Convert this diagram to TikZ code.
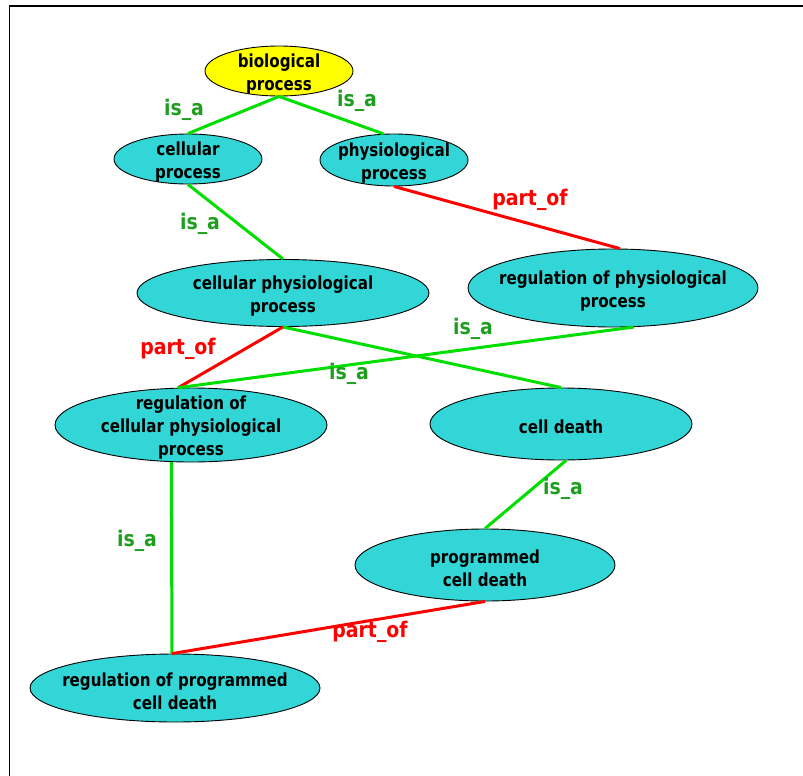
\documentclass[tikz,border=0pt]{standalone}
\usepackage{fontspec}
\setmainfont{DejaVu Sans}[FakeStretch=0.84]
\newfontfamily\relfont{DejaVu Sans}[FakeStretch=0.88]
\usepackage{tikz}
\usetikzlibrary{shapes.geometric}

\definecolor{gocyan}{RGB}{51,214,214}
\definecolor{goyellow}{RGB}{255,255,0}
\definecolor{isaline}{RGB}{0,222,0}
\definecolor{isatext}{RGB}{30,158,30}
\definecolor{partred}{RGB}{255,0,0}

\tikzset{
  proc/.style={ellipse,draw=black,line width=0.9pt,fill=gocyan,inner sep=0pt},
  root/.style={proc,fill=goyellow},
  txt/.style={font=\bfseries\fontsize{18}{23}\selectfont,align=center,inner sep=0pt,yshift=-3pt},
  rel/.style={font=\relfont\bfseries\fontsize{21.5}{25}\selectfont,inner sep=0pt},
  isa/.style={draw=isaline,line width=3pt},
  partof/.style={draw=partred,line width=3pt},
  isalbl/.style={rel,text=isatext},
  partlbl/.style={rel,text=partred}
}

\begin{document}
\begin{tikzpicture}[x=1pt,y=-1pt]
\useasboundingbox (0,0) rectangle (803,776);
\draw [line width=1.5pt] (9.5,776) -- (9.5,6) -- (803,6);

% terms
\node[root,minimum width=148,minimum height=50,label={[txt]center:biological\\process}] (bio) at (279,71) {};
\node[proc,minimum width=148,minimum height=50,label={[txt]center:cellular\\process}] (cell) at (188,159) {};
\node[proc,minimum width=148,minimum height=52,label={[txt]center:physiological\\process}] (phys) at (394,160) {};
\node[proc,minimum width=292,minimum height=67,label={[txt]center:cellular physiological\\process}] (cellphys) at (283,293) {};
\node[proc,minimum width=290,minimum height=78,label={[txt]center:regulation of physiological\\process}] (regphys) at (613,288) {};
\node[proc,minimum width=272,minimum height=74,label={[txt]center:regulation of\\cellular physiological\\process}] (regcell) at (191,425) {};
\node[proc,minimum width=262,minimum height=72,label={[txt]center:cell death}] (death) at (561,424) {};
\node[proc,minimum width=260,minimum height=72,label={[txt]center:programmed\\cell death}] (prog) at (485,565) {};
\node[proc,minimum width=290,minimum height=68,label={[txt]center:regulation of programmed\\cell death}] (regprog) at (175,688) {};

% relations
\draw[isa] (bio.south) -- (cell.north);
\draw[isa] (bio.south) -- (phys.112);
\draw[isa] (cell.south) -- (cellphys.north);
\draw[partof] (phys.south) -- (regphys.80);
\draw[partof] (regcell.109) -- (cellphys.south);
\draw[isa] (cellphys.south) -- (death.north);
\draw[isa] (regcell.109) -- (regphys.-62);
\draw[isa] (death.-82) -- (prog.north);
\draw[isa] (regcell.-118) -- (regprog.95);
\draw[partof] (prog.south) -- (regprog.95);

% labels
\node[isalbl] (l1) at (184,110) {is\_a};
\node[isalbl] (l2) at (357,101) {is\_a};
\node[isalbl] (l3) at (200,224) {is\_a};
\node[partlbl] (l4) at (530,200) {part\_of};
\node[partlbl] (l5) at (178,349) {part\_of};
\node[isalbl] (l6) at (473,329) {is\_a};
\node[isalbl] (l7) at (349,374) {is\_a};
\node[isalbl] (l8) at (563,489) {is\_a};
\node[isalbl] (l9) at (137,541) {is\_a};
\node[partlbl] (l10) at (370,632) {part\_of};
\end{tikzpicture}
\end{document}
